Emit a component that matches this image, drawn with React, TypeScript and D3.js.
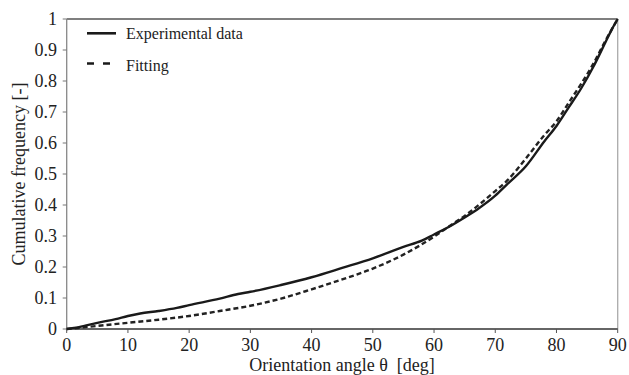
import React from "react";
import * as d3 from "d3";

const expTheta = [0, 2, 5, 8, 10, 12, 15, 18, 20, 25, 28, 30, 35, 40, 45, 50, 55, 58, 60, 62, 65, 67, 70, 72, 75, 78, 80, 82, 84, 86, 88, 89, 90];
const expValue = [0, 0.006, 0.02, 0.032, 0.042, 0.05, 0.058, 0.068, 0.077, 0.098, 0.113, 0.12, 0.142, 0.167, 0.197, 0.228, 0.265, 0.285, 0.305, 0.325, 0.36, 0.385, 0.43, 0.468, 0.525, 0.605, 0.655, 0.715, 0.775, 0.845, 0.925, 0.965, 1.0];
const fitTheta = [0, 5, 10, 15, 20, 25, 30, 35, 40, 45, 50, 55, 60, 62, 65, 70, 72, 75, 78, 80, 82, 84, 86, 88, 90];
const fitValue = [0, 0.01, 0.02, 0.03, 0.042, 0.058, 0.075, 0.098, 0.128, 0.16, 0.195, 0.24, 0.298, 0.325, 0.365, 0.445, 0.48, 0.55, 0.625, 0.67, 0.73, 0.79, 0.855, 0.93, 1.0];
const xTicks = [0, 10, 20, 30, 40, 50, 60, 70, 80, 90];
const yTicks = [0, 0.1, 0.2, 0.3, 0.4, 0.5, 0.6, 0.7, 0.8, 0.9, 1];
const yTickLabels = ["0", "0.1", "0.2", "0.3", "0.4", "0.5", "0.6", "0.7", "0.8", "0.9", "1"];
const seriesNames = ["Experimental data", "Fitting"];

const W = 629;
const H = 375;
const L = 66.7, R = 617.7, T = 19, B = 329;
const FONT = "'Liberation Serif', 'Times New Roman', serif";

export default function App() {
  const x = d3.scaleLinear().domain([0, 90]).range([L, R]);
  const y = d3.scaleLinear().domain([0, 1]).range([B, T]);
  const line = d3.line<[number, number]>().x(d => x(d[0])).y(d => y(d[1])).curve(d3.curveMonotoneX);
  const expPts = expTheta.map((t, i) => [t, expValue[i]] as [number, number]);
  const fitPts = fitTheta.map((t, i) => [t, fitValue[i]] as [number, number]);
  const ts = (size: number): React.CSSProperties => ({ fontFamily: FONT, fontSize: size + "px" });
  return (
    <svg width={W} height={H} style={{ position: "absolute", left: 0, top: 0, background: "#fff" }}>
      <rect x={0} y={0} width={W} height={H} fill="#fff" />
      <line x1={L} x2={R} y1={T} y2={T} stroke="#555" strokeWidth={1.3} />
      <line x1={R} x2={R} y1={T} y2={B} stroke="#aaa" strokeWidth={1.3} />
      <line x1={L} x2={L} y1={T} y2={B} stroke="#888" strokeWidth={1.3} />
      <line x1={L} x2={R} y1={B} y2={B} stroke="#333" strokeWidth={1.3} />
      {yTicks.map((v, i) => (
        <g key={"y" + i}>
          <line x1={L - 4} x2={L} y1={y(v)} y2={y(v)} stroke="#777" strokeWidth={1} />
          <text x={57} y={y(v) + 6} textAnchor="end" style={ts(18)} fill="#222">{yTickLabels[i]}</text>
        </g>
      ))}
      {xTicks.map((v, i) => (
        <g key={"x" + i}>
          <line x1={x(v)} x2={x(v)} y1={B} y2={B + 4} stroke="#555" strokeWidth={1} />
          <text x={x(v)} y={351} textAnchor="middle" style={ts(18)} fill="#222">{v}</text>
        </g>
      ))}
      <path d={line(fitPts) || ""} fill="none" stroke="#222" strokeWidth={2.4} strokeDasharray="5,3" />
      <path d={line(expPts) || ""} fill="none" stroke="#1a1a1a" strokeWidth={2.4} />
      <line x1={87} x2={116} y1={33.3} y2={33.3} stroke="#1a1a1a" strokeWidth={2.6} />
      <text x={126} y={39} style={ts(16)} fill="#222">{seriesNames[0]}</text>
      <line x1={87} x2={116} y1={63.5} y2={63.5} stroke="#1a1a1a" strokeWidth={2.6} strokeDasharray="7,9" />
      <text x={126} y={70.5} style={ts(16)} fill="#222">{seriesNames[1]}</text>
      <text x={342} y={371} textAnchor="middle" style={ts(18)} fill="#222">{"Orientation angle θ\u00a0 [deg]"}</text>
      <text transform="translate(25,174) rotate(-90)" textAnchor="middle" style={ts(18)} fill="#222">Cumulative frequency [-]</text>
    </svg>
  );
}
